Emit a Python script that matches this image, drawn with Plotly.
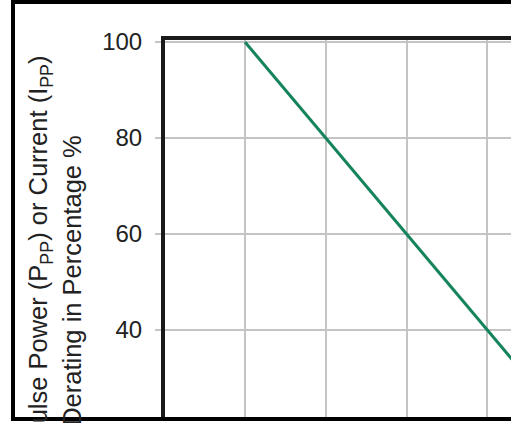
import plotly.graph_objects as go

# Data: derating curve (temperature °C vs % of rated peak pulse power/current)
temperature = [25, 150]
derating = [100, 0]
y_ticks = [20, 40, 60, 80, 100]
x_ticks = [0, 25, 50, 75, 100, 125, 150]

W, H = 511, 423
# chart plot-area edges in pixels
CL, CT, CB = 165, 40, 417
# outer frame edges in pixels
FL, FT, FB = 15, 3.5, 417

def fx(x):
    return x / W

def fy(y):
    return (H - y) / H

PW = W - CL
PH = CB - CT

fig = go.Figure()
fig.add_trace(go.Scatter(x=temperature, y=derating, mode="lines",
                         line=dict(color="#15845a", width=3), showlegend=False,
                         cliponaxis=False, xaxis="x", yaxis="y"))
fig.add_trace(go.Scatter(x=[0], y=[0], mode="markers", marker=dict(opacity=0),
                         showlegend=False, hoverinfo="skip", xaxis="x2", yaxis="y2"))

fig.update_layout(
    width=W, height=H,
    margin=dict(l=0, r=0, t=0, b=0, pad=0),
    paper_bgcolor="white", plot_bgcolor="rgba(0,0,0,0)",
    font=dict(family="Arial, Liberation Sans, sans-serif", color="#222222"),
    annotations=[dict(
        text="Peak Pulse Power (P<sub>PP</sub>) or Current (I<sub>PP</sub>)<br>Derating in Percentage %",
        xref="paper", yref="y", x=fx(55), y=50.3, xanchor="center", yanchor="middle",
        textangle=-90, showarrow=False, font=dict(size=25.5, color="#222222"), align="center")],
    xaxis=dict(domain=[fx(CL), 1], anchor="y",
               range=[0.25, 0.25 + PW / 3.232], tickvals=x_ticks, showticklabels=False,
               side="top", showline=True, linewidth=4, linecolor="#1a1a1a",
               showgrid=True, gridcolor="#c4c4c4", gridwidth=1.5, zeroline=False,
               ticks="", automargin=False),
    yaxis=dict(domain=[fy(CB), fy(CT)], anchor="x",
               range=[100.42 - PH / 4.8, 100.42], tickvals=y_ticks,
               showline=True, linewidth=4, linecolor="#1a1a1a",
               showgrid=True, gridcolor="#c4c4c4", gridwidth=1.5, zeroline=False,
               ticks="outside", ticklen=6, tickwidth=1.5, tickcolor="#c4c4c4",
               tickfont=dict(size=24, color="#222222"), ticklabelstandoff=8,
               automargin=False),
    xaxis2=dict(domain=[fx(FL), 1], anchor="y2", range=[0, 1],
                showline=True, mirror=True, linewidth=4, linecolor="black",
                showgrid=False, zeroline=False, showticklabels=False, ticks="",
                automargin=False, fixedrange=True),
    yaxis2=dict(domain=[fy(FB), fy(FT)], anchor="x2", range=[0, 1],
                showline=True, linewidth=4, linecolor="black",
                showgrid=False, zeroline=False, showticklabels=False, ticks="",
                automargin=False, fixedrange=True),
)

fig.write_html("out.html", config={"displayModeBar": False},
               post_script="document.body.style.margin='0px';")
